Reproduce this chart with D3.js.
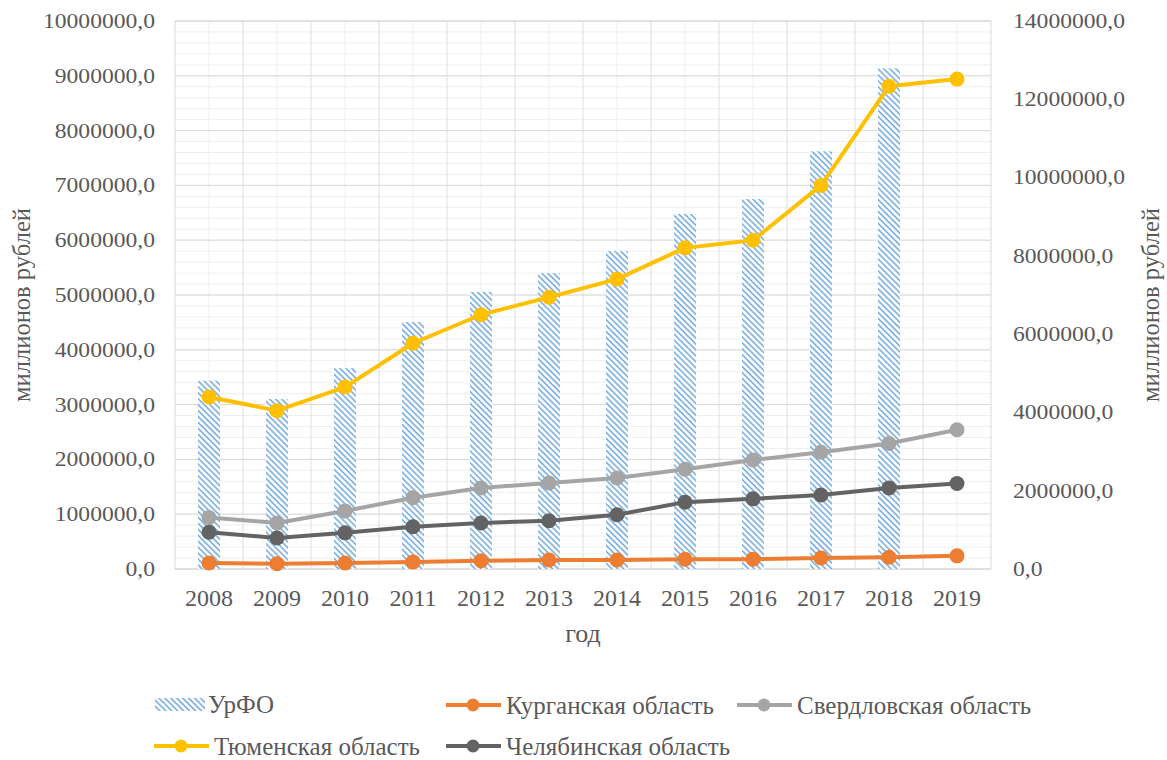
<!DOCTYPE html>
<html><head><meta charset="utf-8">
<script src="https://cdn.jsdelivr.net/npm/d3@7"></script>
</head>
<body style="margin:0">
<svg id="chart" width="1167" height="760"></svg>
<script>
const years = ["2008","2009","2010","2011","2012","2013","2014","2015","2016","2017","2018","2019"];
const urfo = [4810000,4340000,5130000,6310000,7080000,7560000,8120000,9070000,9450000,10670000,12790000,null];
const kurgan = [110000,95000,110000,130000,150000,165000,165000,180000,180000,200000,215000,240000];
const sverdlovsk = [940000,840000,1060000,1300000,1480000,1570000,1660000,1820000,1990000,2130000,2290000,2540000];
const tyumen = [3140000,2890000,3320000,4120000,4640000,4960000,5290000,5860000,6000000,7000000,8810000,8940000];
const chelyabinsk = [670000,565000,660000,770000,840000,880000,990000,1220000,1280000,1350000,1480000,1560000];
const leftTicks = d3.range(0, 10000001, 1000000);
const rightTicks = d3.range(0, 14000001, 2000000);

const FONT = "Liberation Serif";
const TXT = "#595959";
const SX = 1.18;
const fmt = v => v + ",0";
const svg = d3.select("#chart");
const L = 175, R = 991, T = 21, B = 569;

function styleText(sel, size){
  return sel.attr("font-size", size).attr("font-family", FONT).attr("fill", TXT);
}

const x = d3.scaleBand().domain(years).range([L, R]).padding(0);
const yL = d3.scaleLinear().domain([0, 10000000]).range([B, T]);
const yR = d3.scaleLinear().domain([0, 14000000]).range([B, T]);

const defs = svg.append("defs");
const pat = defs.append("pattern").attr("id","hatch").attr("patternUnits","userSpaceOnUse")
  .attr("width",4.2).attr("height",4.2).attr("patternTransform","rotate(-45)");
pat.append("rect").attr("width",4.2).attr("height",4.2).attr("fill","#fff");
pat.append("line").attr("x1",1).attr("y1",0).attr("x2",1).attr("y2",4.2)
  .attr("stroke","#6FA8DC").attr("stroke-width",1.5);

const g = svg.append("g");
const minor = d3.range(0, 10000001, 200000);
g.selectAll(".hmin").data(minor).join("line")
  .attr("x1",L).attr("x2",R).attr("y1",d=>yL(d)).attr("y2",d=>yL(d))
  .attr("stroke","#efefef").attr("stroke-width",1);
g.selectAll(".vmin").data(years).join("line")
  .attr("x1",d=>x(d)+x.bandwidth()/2).attr("x2",d=>x(d)+x.bandwidth()/2)
  .attr("y1",T).attr("y2",B).attr("stroke","#efefef").attr("stroke-width",1);
g.selectAll(".hmaj").data(leftTicks).join("line")
  .attr("x1",L).attr("x2",R).attr("y1",d=>yL(d)).attr("y2",d=>yL(d))
  .attr("stroke","#d9d9d9").attr("stroke-width",1);
g.selectAll(".vmaj").data(years.slice(1)).join("line")
  .attr("x1",d=>x(d)).attr("x2",d=>x(d)).attr("y1",T).attr("y2",B)
  .attr("stroke","#dedede").attr("stroke-width",1);
g.append("rect").attr("x",L).attr("y",T).attr("width",R-L).attr("height",B-T)
  .attr("fill","none").attr("stroke","#d9d9d9");

const bw = 22;
svg.append("g").selectAll("rect").data(years.map((y,i)=>({y,v:urfo[i]})).filter(d=>d.v!=null))
  .join("rect")
  .attr("x",d=>x(d.y)+x.bandwidth()/2-bw/2).attr("width",bw)
  .attr("y",d=>yR(d.v)).attr("height",d=>B-yR(d.v))
  .attr("fill","url(#hatch)");

const series = [
  {name:"Курганская область", vals:kurgan, color:"#ED7D31"},
  {name:"Свердловская область", vals:sverdlovsk, color:"#A5A5A5"},
  {name:"Тюменская область", vals:tyumen, color:"#FFC000"},
  {name:"Челябинская область", vals:chelyabinsk, color:"#636363"}
];
const line = d3.line().x((d,i)=>x(years[i])+x.bandwidth()/2).y(d=>yL(d));
series.forEach(s=>{
  const gs = svg.append("g");
  gs.append("path").attr("d",line(s.vals)).attr("fill","none")
    .attr("stroke",s.color).attr("stroke-width",4).attr("stroke-linejoin","round");
  gs.selectAll("circle").data(s.vals).join("circle")
    .attr("cx",(d,i)=>x(years[i])+x.bandwidth()/2).attr("cy",d=>yL(d))
    .attr("r",7.5).attr("fill",s.color);
});

// axes (tick texts appended manually so that they carry plain font attributes)
const gL = svg.append("g").attr("transform",`translate(${L},0)`)
  .call(d3.axisLeft(yL).tickValues(leftTicks).tickFormat(fmt).tickSize(0));
const gR = svg.append("g").attr("transform",`translate(${R},0)`)
  .call(d3.axisRight(yR).tickValues(rightTicks).tickFormat(fmt).tickSize(0));
const gB = svg.append("g").attr("transform",`translate(0,${B})`)
  .call(d3.axisBottom(x).tickSize(0));
[gL,gR,gB].forEach(a=>{
  a.attr("font-family",FONT).attr("font-size",20);
  a.select(".domain").remove();
});
styleText(gL.selectAll("text"), 20).attr("x",-20/SX).attr("transform",`scale(${SX},1)`);
styleText(gR.selectAll("text"), 20).attr("x",22/SX).attr("transform",`scale(${SX},1)`);
styleText(gB.selectAll("text"), 24).attr("dy",null).attr("y",37);

// axis titles
const titles = [];
function title(xp, label){
  const t = svg.append("text").attr("transform",`translate(${xp},${(T+B)/2 + 10}) rotate(-90)`)
    .attr("text-anchor","middle").text(label);
  styleText(t, 24);
  titles.push(t);
}
function fitTitles(){
  titles.forEach(t=>{
    t.attr("font-size",24);
    const len = t.node().getComputedTextLength();
    if (len > 0) t.attr("font-size", 24*194/len);
  });
}
title(30, "миллионов рублей");
title(1159, "миллионов рублей");
fitTitles();
styleText(svg.append("text").attr("x",583).attr("y",642).attr("text-anchor","middle").text("год"), 26);

// legend
const leg = svg.append("g").attr("font-family",FONT);
const items = [
  {name:"УрФО", bar:true, x:155, y:705},
  {name:series[0].name, color:series[0].color, x:446, y:705},
  {name:series[1].name, color:series[1].color, x:737, y:705},
  {name:series[2].name, color:series[2].color, x:154, y:746},
  {name:series[3].name, color:series[3].color, x:446, y:746}
];
items.forEach(it=>{
  if(it.bar){
    leg.append("rect").attr("x",it.x).attr("y",it.y-7).attr("width",50).attr("height",13).attr("fill","url(#hatch)");
    styleText(leg.append("text").attr("x",it.x+53).attr("y",it.y+8).text(it.name), 25);
  } else {
    leg.append("line").attr("x1",it.x).attr("x2",it.x+55).attr("y1",it.y).attr("y2",it.y)
      .attr("stroke",it.color).attr("stroke-width",4);
    leg.append("circle").attr("cx",it.x+27).attr("cy",it.y).attr("r",6.5).attr("fill",it.color);
    styleText(leg.append("text").attr("x",it.x+60).attr("y",it.y+9).text(it.name), 25);
  }
});

// make sure the serif face is used once it is resolved
if (document.fonts && document.fonts.load) {
  document.fonts.load('20px "Liberation Serif"', "2008 УрФО").then(()=>{
    svg.selectAll("text").each(function(){
      const s = d3.select(this);
      s.attr("font-family", null);
      s.attr("font-family", FONT);
    });
    fitTitles();
  }).catch(()=>{});
}
</script>
</body></html>
